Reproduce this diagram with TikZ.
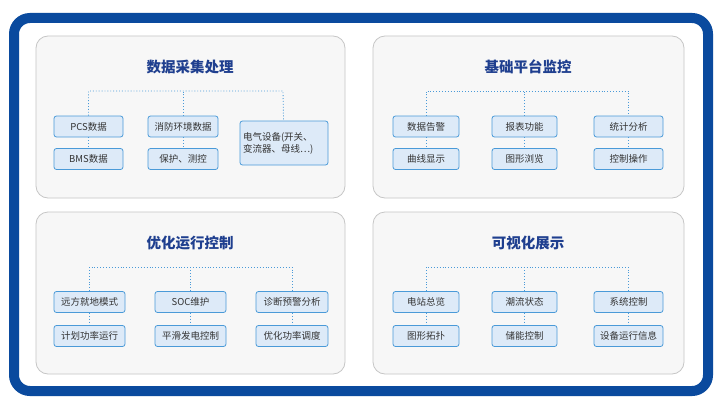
\documentclass[tikz,border=0pt]{standalone}
\usepackage{fontspec}
\setmainfont{Noto Sans CJK SC}
\usetikzlibrary{positioning}
\definecolor{frameblue}{HTML}{0A4A9E}
\definecolor{titleblue}{HTML}{1F3F8F}
\definecolor{boxfill}{HTML}{DDEAF8}
\definecolor{boxline}{HTML}{4A9AD8}
\definecolor{panelfill}{HTML}{F7F7F7}
\tikzset{
  panel/.style={draw=gray!45, fill=panelfill, rounded corners=12pt, line width=0.8pt},
  item/.style={draw=boxline, fill=boxfill, rounded corners=2.5pt, line width=0.8pt,
    minimum height=21pt, font=\fontsize{9.5}{12}\selectfont, text=black!80, inner xsep=1pt},
  title/.style={font=\fontsize{14.5}{16}\selectfont\bfseries, text=titleblue},
  link/.style={draw=boxline, dotted, line width=0.9pt}
}
\begin{document}
\begin{tikzpicture}[x=1pt,y=-1pt]
  \useasboundingbox (0,0) rectangle (722,404);
  %Frame
  \fill[white] (0,0) rectangle (722,404);
  \draw[frameblue, line width=10pt, rounded corners=16pt, fill=white] (14,18) rectangle (708,391);
  %Panels
  \draw[panel] (36,36) rectangle (345,198);
  \draw[panel] (373,36) rectangle (684,198);
  \draw[panel] (36,212) rectangle (345,374);
  \draw[panel] (373,212) rectangle (684,374);
  \node[title] (t1) at (190,67) {数据采集处理};
  \node[title] (t2) at (528,67) {基础平台监控};
  \node[title] (t3) at (190,243) {优化运行控制};
  \node[title] (t4) at (528,243) {可视化展示};

  %Data acquisition
  \node[item, minimum width=69pt] (pcs) at (88.5,126.5) {PCS数据};
  \node[item, minimum width=69pt] (bms) at (88.5,159) {BMS数据};
  \node[item, minimum width=70pt] (fire) at (183,126.5) {消防环境数据};
  \node[item, minimum width=70pt] (prot) at (183,159) {保护、测控};
  \node[item, text width=82pt, minimum height=44pt, align=left, inner xsep=3pt] (elec) at (284,143) {电气设备(开关、\\变流器、母线…)};
  \coordinate (b1) at (88.5,91);
  \coordinate (b3) at (283,91);
  \draw[link] (pcs) -- (b1) -- (b3) -- (elec);
  \draw[link] (fire) -- (fire|-b1);
  \draw[link] (pcs) -- (bms);
  \draw[link] (fire) -- (prot);

  %Platform monitoring
  \node[item, minimum width=66pt] (alarm) at (426,126.5) {数据告警};
  \node[item, minimum width=66pt] (curve) at (426,159) {曲线显示};
  \node[item, minimum width=65pt] (report) at (524.5,126.5) {报表功能};
  \node[item, minimum width=65pt] (graph) at (524.5,159) {图形浏览};
  \node[item, minimum width=69pt] (stat) at (628.5,126.5) {统计分析};
  \node[item, minimum width=69pt] (ctrl) at (628.5,159) {控制操作};
  \draw[link] (alarm) -- (alarm|-b1) -- (stat|-b1) -- (stat);
  \draw[link] (report) -- (report|-b1);
  \foreach \a/\b in {alarm/curve, report/graph, stat/ctrl}
    \draw[link] (\a) -- (\b);

  %Optimized control
  \node[item, minimum width=71pt] (remote) at (89.5,302) {远方就地模式};
  \node[item, minimum width=71pt] (plan) at (89.5,336) {计划功率运行};
  \node[item, minimum width=71pt] (soc) at (190.5,302) {SOC维护};
  \node[item, minimum width=71pt] (smooth) at (190.5,336) {平滑发电控制};
  \node[item, minimum width=72pt] (diag) at (292,302) {诊断预警分析};
  \node[item, minimum width=72pt] (dispatch) at (292,336) {优化功率调度};
  \coordinate (b4) at (0,267);
  \draw[link] (remote) -- (remote|-b4) -- (diag|-b4) -- (diag);
  \draw[link] (soc) -- (soc|-b4);
  \foreach \a/\b in {remote/plan, soc/smooth, diag/dispatch}
    \draw[link] (\a) -- (\b);

  %Visualization
  \node[item, minimum width=66pt] (station) at (426,302) {电站总览};
  \node[item, minimum width=66pt] (topo) at (426,336) {图形拓扑};
  \node[item, minimum width=65pt] (flow) at (524.5,302) {潮流状态};
  \node[item, minimum width=65pt] (store) at (524.5,336) {储能控制};
  \node[item, minimum width=69pt] (sys) at (628.5,302) {系统控制};
  \node[item, minimum width=69pt] (info) at (628.5,336) {设备运行信息};
  \draw[link] (station) -- (station|-b4) -- (sys|-b4) -- (sys);
  \draw[link] (flow) -- (flow|-b4);
  \foreach \a/\b in {station/topo, flow/store, sys/info}
    \draw[link] (\a) -- (\b);
\end{tikzpicture}
\end{document}
